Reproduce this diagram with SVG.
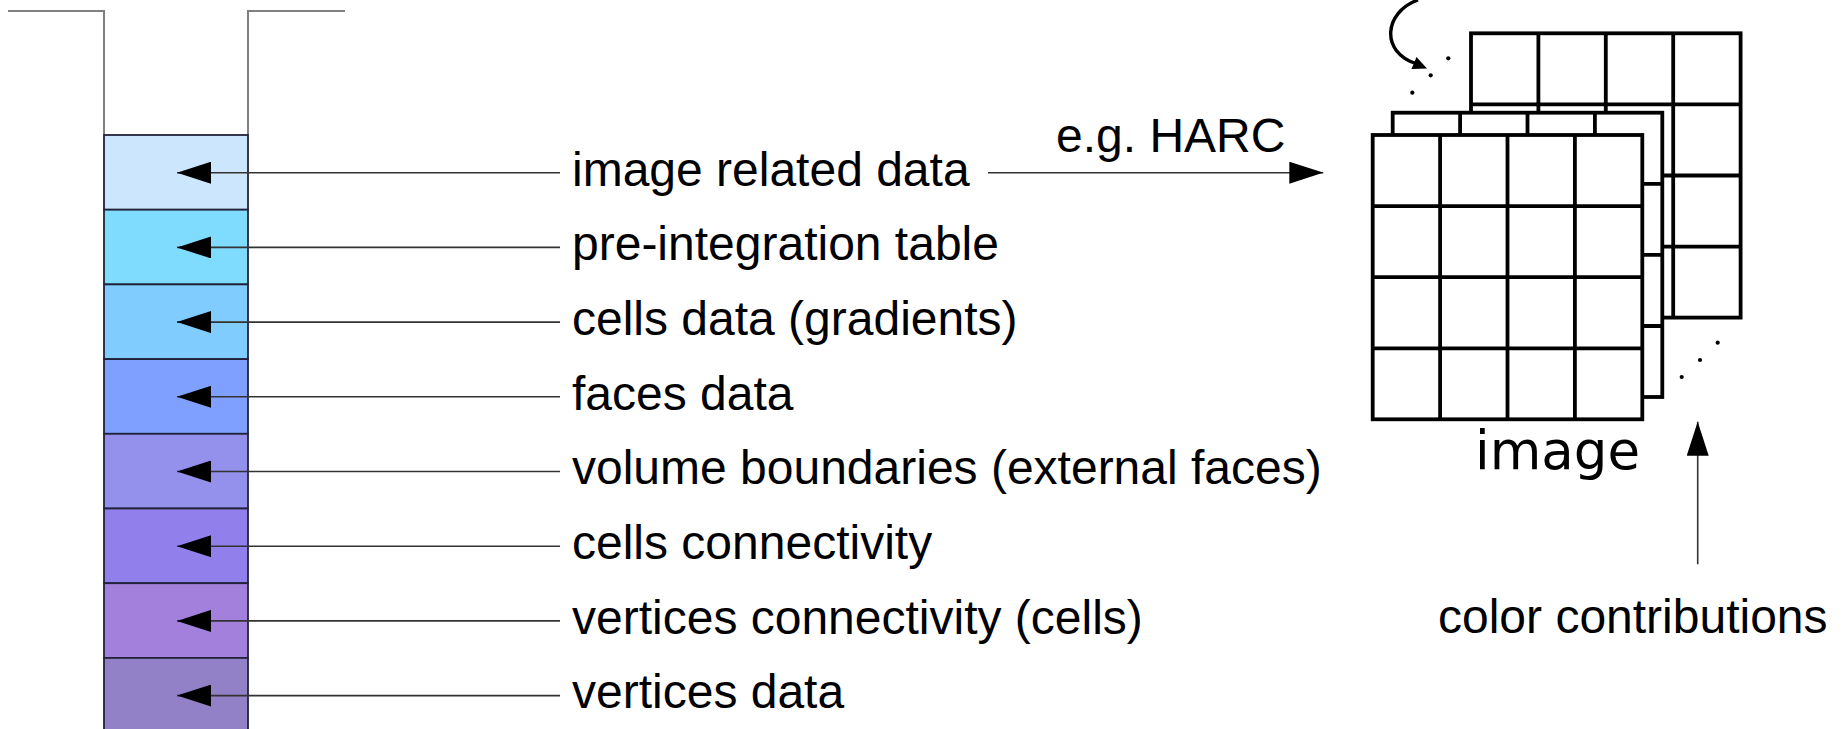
<svg xmlns="http://www.w3.org/2000/svg" width="1844" height="729" viewBox="0 0 1844 729">
<style>
  .lbl { font-family: "Liberation Sans", Arial, sans-serif; font-size: 48px; fill: #000; }
  .img { font-family: "DejaVu Sans", sans-serif; font-size: 53px; fill: #000; }
  .wall { stroke: #808080; stroke-width: 2; fill: none; }
  .box { stroke: #22223a; stroke-width: 1.8; }
  .conn { stroke: #333; stroke-width: 1.6; fill: none; }
  .grid rect { fill: #fff; stroke: #000; stroke-width: 3.8; }
  .grid line { stroke: #000; stroke-width: 3.8; }
</style>
<defs>
  <marker id="ah" viewBox="0 0 34 22" refX="34" refY="11" markerWidth="34" markerHeight="22" markerUnits="userSpaceOnUse" orient="auto">
    <path d="M0,0 L34,11 L0,22 Z" fill="#000"/>
  </marker>
  <g id="gridTpl" class="grid">
    <rect x="0" y="0" width="269.6" height="284.3"/>
    <line x1="67.4" y1="0" x2="67.4" y2="284.3"/>
    <line x1="134.8" y1="0" x2="134.8" y2="284.3"/>
    <line x1="202.2" y1="0" x2="202.2" y2="284.3"/>
    <line x1="0" y1="71.1" x2="269.6" y2="71.1"/>
    <line x1="0" y1="142.2" x2="269.6" y2="142.2"/>
    <line x1="0" y1="213.3" x2="269.6" y2="213.3"/>
  </g>
</defs>

<g id="buffer-walls">
  <polyline class="wall" points="8,11 104,11 104,135"/>
  <polyline class="wall" points="345,11 248,11 248,135"/>
</g>

<g id="stack">
  <g id="row-image-related"><rect class="box" x="104" y="135" width="144" height="74.7" fill="#cce6fd"/></g>
  <g id="row-preintegration"><rect class="box" x="104" y="209.7" width="144" height="74.7" fill="#80dcff"/></g>
  <g id="row-cells-data"><rect class="box" x="104" y="284.4" width="144" height="74.7" fill="#80ccff"/></g>
  <g id="row-faces"><rect class="box" x="104" y="359.1" width="144" height="74.7" fill="#80a0ff"/></g>
  <g id="row-boundaries"><rect class="box" x="104" y="433.8" width="144" height="74.7" fill="#9391eb"/></g>
  <g id="row-cells-conn"><rect class="box" x="104" y="508.5" width="144" height="74.7" fill="#9180eb"/></g>
  <g id="row-vert-conn"><rect class="box" x="104" y="583.2" width="144" height="74.7" fill="#a380dc"/></g>
  <g id="row-vertices"><rect class="box" x="104" y="657.9" width="144" height="74.7" fill="#9381c8"/></g>
</g>

<g id="labels">
  <g id="lbl-1"><text class="lbl" x="572" y="185.5">image related data</text></g>
  <g id="lbl-2"><text class="lbl" x="572" y="260.2">pre-integration table</text></g>
  <g id="lbl-3"><text class="lbl" x="572" y="334.9">cells data (gradients)</text></g>
  <g id="lbl-4"><text class="lbl" x="572" y="409.6">faces data</text></g>
  <g id="lbl-5"><text class="lbl" x="572" y="484.3">volume boundaries (external faces)</text></g>
  <g id="lbl-6"><text class="lbl" x="572" y="559">cells connectivity</text></g>
  <g id="lbl-7"><text class="lbl" x="572" y="633.7">vertices connectivity (cells)</text></g>
  <g id="lbl-8"><text class="lbl" x="572" y="708.4">vertices data</text></g>
</g>

<g id="image-stack">
  <use href="#gridTpl" transform="translate(1471,33.3)"/>
  <use href="#gridTpl" transform="translate(1392.7,112.7)"/>
  <use href="#gridTpl" transform="translate(1372.7,135)"/>
  <g id="dots" fill="#000">
    <circle cx="1448.3" cy="58.3" r="2.1"/>
    <circle cx="1430.7" cy="75.3" r="2.1"/>
    <circle cx="1412.3" cy="92.7" r="2.1"/>
    <circle cx="1717.7" cy="342.7" r="2.1"/>
    <circle cx="1700" cy="360" r="2.1"/>
    <circle cx="1681.7" cy="377" r="2.1"/>
  </g>
  <g id="loop-arrow">
    <path d="M1418,0 C1384,12 1380,52 1416,63.5" fill="none" stroke="#000" stroke-width="3.4"/>
    <polygon points="1427,68.5 1411.5,69 1416.5,57" fill="#000"/>
  </g>
  <text class="img" x="1475" y="469">image</text>
</g>

<g id="color-contrib">
  <text class="lbl" x="1438" y="633.3">color contributions</text>
</g>

<g id="connectors">
  <line class="conn" x1="560" y1="172.7" x2="177" y2="172.7" marker-end="url(#ah)"/>
  <line class="conn" x1="560" y1="247.4" x2="177" y2="247.4" marker-end="url(#ah)"/>
  <line class="conn" x1="560" y1="322.1" x2="177" y2="322.1" marker-end="url(#ah)"/>
  <line class="conn" x1="560" y1="396.8" x2="177" y2="396.8" marker-end="url(#ah)"/>
  <line class="conn" x1="560" y1="471.5" x2="177" y2="471.5" marker-end="url(#ah)"/>
  <line class="conn" x1="560" y1="546.2" x2="177" y2="546.2" marker-end="url(#ah)"/>
  <line class="conn" x1="560" y1="620.9" x2="177" y2="620.9" marker-end="url(#ah)"/>
  <line class="conn" x1="560" y1="695.6" x2="177" y2="695.6" marker-end="url(#ah)"/>
  <line class="conn" x1="988" y1="172.7" x2="1323.3" y2="172.7" marker-end="url(#ah)"/>
  <text class="lbl" x="1056" y="151.7">e.g. HARC</text>
  <line class="conn" x1="1697.7" y1="564.3" x2="1697.7" y2="421.7" marker-end="url(#ah)"/>
</g>
</svg>
